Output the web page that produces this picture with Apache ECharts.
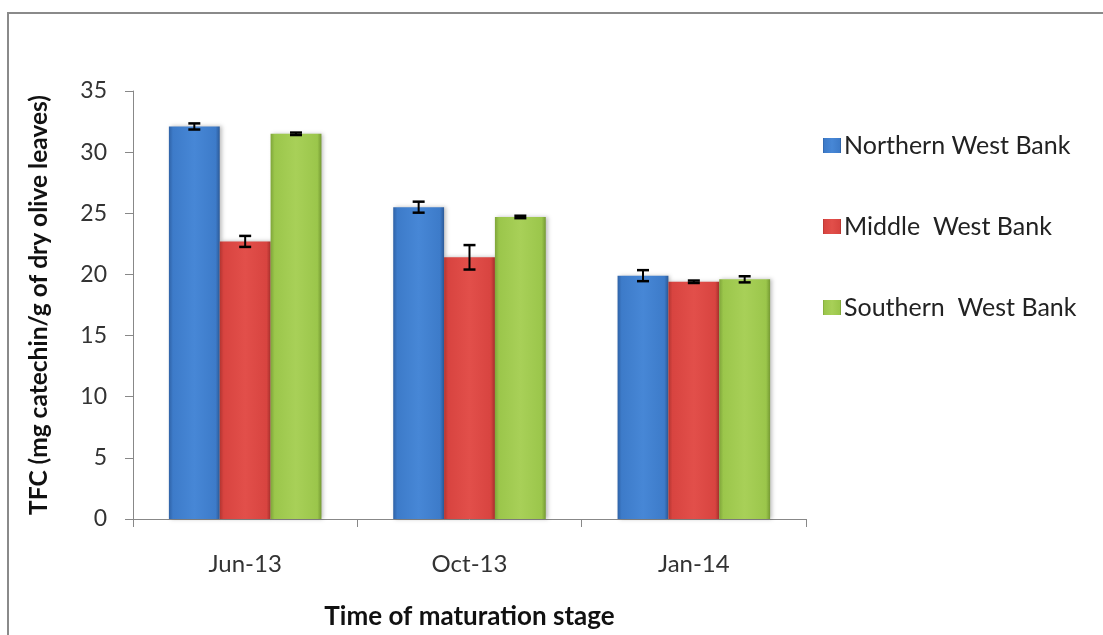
<!DOCTYPE html>
<html>
<head>
<meta charset="utf-8">
<script src="https://cdn.jsdelivr.net/npm/echarts@6/dist/echarts.min.js"></script>
<style>
html,body{margin:0;padding:0;background:#fff;overflow:hidden;}
#c{width:1103px;height:635px;}
</style>
</head>
<body>
<div id="c"></div>
<script>
const categories = ['Jun-13', 'Oct-13', 'Jan-14'];
const seriesNames = ['Northern West Bank', 'Middle  West Bank', 'Southern  West Bank'];
const northern = [32.1, 25.5, 19.9];
const middle = [22.7, 21.4, 19.4];
const southern = [31.5, 24.7, 19.6];
const northernErr = [0.25, 0.45, 0.45];
const middleErr = [0.45, 1.0, 0.1];
const southernErr = [0.1, 0.1, 0.25];
const yTicks = [0, 5, 10, 15, 20, 25, 30, 35];

const values = [northern, middle, southern];
const errs = [northernErr, middleErr, southernErr];
const palettes = [
  ['#2f62a6', '#4787d6', '#3d7bc9', '#2c5a98'],
  ['#b33531', '#e24f4a', '#d84440', '#a8302c'],
  ['#7fa53a', '#a8d058', '#9bc64b', '#759a33']
];
function grad(p) {
  return {
    type: 'linear', x: 0, y: 0, x2: 1, y2: 0,
    colorStops: [
      {offset: 0, color: p[0]},
      {offset: 0.08, color: p[2]},
      {offset: 0.5, color: p[1]},
      {offset: 0.92, color: p[2]},
      {offset: 1, color: p[3]}
    ]
  };
}
const FONT = 'Lato, "Open Sans", sans-serif';
const el = document.getElementById('c');
const chart = echarts.init(el);

const barSeries = values.map((v, i) => ({
  name: seriesNames[i],
  type: 'bar',
  data: v,
  barGap: '0%',
  barCategoryGap: '32%',
  itemStyle: {color: grad(palettes[i]), shadowColor: 'rgba(0,0,0,0.25)', shadowBlur: 4, shadowOffsetX: 2},
  emphasis: {disabled: true}
}));

const errSeries = values.map((v, i) => ({
  type: 'custom',
  name: seriesNames[i] + ' err',
  z: 10,
  data: v.map((val, k) => [k, val, errs[i][k]]),
  renderItem: function (params, api) {
    const k = api.value(0);
    const val = api.value(1);
    const e = api.value(2);
    const bandW = api.size([1, 0])[0];
    const groupW = bandW * (1 - 0.32);
    const barW = groupW / 3;
    const center = api.coord([k, val])[0];
    const x = center - groupW / 2 + barW * (i + 0.5);
    const yTop = api.coord([k, val + e])[1];
    const yBot = api.coord([k, val - e])[1];
    const cap = 6;
    const style = {stroke: '#000', lineWidth: 2.5};
    return {
      type: 'group',
      children: [
        {type: 'line', shape: {x1: x, y1: yTop, x2: x, y2: yBot}, style: {stroke: '#000', lineWidth: 2}},
        {type: 'line', shape: {x1: x - cap, y1: yTop, x2: x + cap, y2: yTop}, style: style},
        {type: 'line', shape: {x1: x - cap, y1: yBot, x2: x + cap, y2: yBot}, style: style}
      ]
    };
  },
  silent: true
}));

chart.setOption({
  animation: false,
  backgroundColor: '#fff',
  graphic: [{
    type: 'polyline',
    shape: {points: [[8, 635], [8, 13], [1103, 13]]},
    style: {stroke: '#8a8a8a', lineWidth: 2, fill: null}
  }],
  legend: {
    data: seriesNames,
    orient: 'vertical',
    left: 818,
    top: 128,
    itemWidth: 18,
    itemHeight: 15,
    itemGap: 56,
    icon: 'rect',
    textStyle: {fontFamily: FONT, fontSize: 25, color: '#222', padding: [0, 0, 0, -2]},
    selectedMode: false
  },
  grid: {left: 133, right: 297, top: 91, bottom: 108, containLabel: false},
  xAxis: {
    type: 'category',
    data: categories,
    name: 'Time of maturation stage',
    nameLocation: 'middle',
    nameGap: 85,
    nameTextStyle: {fontFamily: FONT, fontSize: 26, fontWeight: 'bold', color: '#111'},
    axisLine: {lineStyle: {color: '#888', width: 1}},
    axisTick: {show: true, length: 8, alignWithLabel: false, lineStyle: {color: '#888'}},
    axisLabel: {fontFamily: FONT, fontSize: 24, color: '#333', margin: 33}
  },
  yAxis: {
    type: 'value',
    min: yTicks[0],
    max: yTicks[yTicks.length - 1],
    interval: 5,
    name: 'TFC (mg catechin/g of dry olive leaves)',
    nameLocation: 'middle',
    nameGap: 81,
    nameTextStyle: {fontFamily: FONT, fontSize: 24.5, fontWeight: 'bold', color: '#111'},
    axisLine: {show: true, lineStyle: {color: '#888', width: 1}},
    axisTick: {show: true, length: 8, lineStyle: {color: '#888'}},
    splitLine: {show: false},
    axisLabel: {fontFamily: FONT, fontSize: 23, color: '#333', margin: 26}
  },
  series: barSeries.concat(errSeries)
});
</script>
</body>
</html>
